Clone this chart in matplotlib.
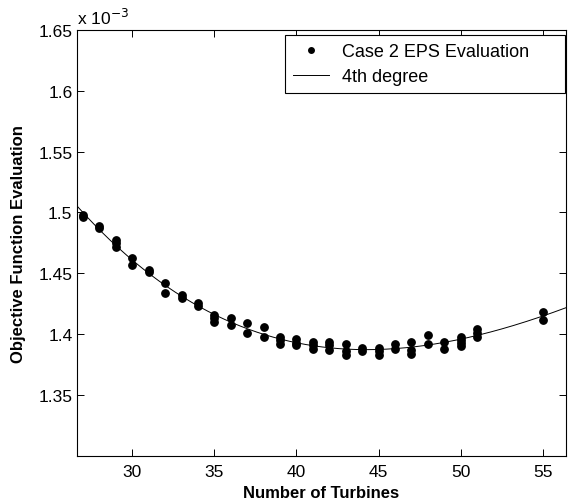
import numpy as np
import matplotlib.pyplot as plt

plt.rcParams['font.family'] = ['Liberation Sans', 'DejaVu Sans']

# objective function values, in units of 1e-3
turbines = [27, 27, 28, 28, 29, 29, 29, 30, 30, 31, 31, 32, 32, 33, 33, 34, 34,
            35, 35, 35, 36, 36, 37, 37, 38, 38, 39, 39, 39, 40, 40, 40,
            41, 41, 41, 42, 42, 42, 43, 43, 43, 44, 44, 45, 45, 45, 46, 46,
            47, 47, 47, 48, 48, 49, 49, 50, 50, 50, 50, 51, 51, 51, 55, 55]
evaluation = [1.496, 1.498, 1.487, 1.489, 1.477, 1.475, 1.472, 1.463, 1.457,
              1.453, 1.451, 1.442, 1.434, 1.432, 1.430, 1.426, 1.423,
              1.416, 1.413, 1.410, 1.413, 1.408, 1.409, 1.401, 1.406, 1.398,
              1.398, 1.395, 1.392, 1.396, 1.393, 1.391,
              1.394, 1.391, 1.388, 1.394, 1.391, 1.387, 1.392, 1.386, 1.383,
              1.389, 1.386, 1.389, 1.386, 1.383, 1.392, 1.388,
              1.394, 1.387, 1.384, 1.399, 1.392, 1.394, 1.388,
              1.398, 1.395, 1.393, 1.390, 1.404, 1.401, 1.398, 1.418, 1.412]

xlim = (26.65, 56.4)
ylim = (1.30, 1.65)

# 4th degree polynomial fit of the evaluations
coef = np.polyfit(turbines, evaluation, 4)
fit_x = np.linspace(xlim[0], xlim[1], 300)
fit_y = np.polyval(coef, fit_x)

fig = plt.figure(figsize=(5.70, 5.02), dpi=100)
ax = fig.add_axes([0.1356, 0.0896, 0.857, 0.849])

ax.plot(turbines, evaluation, 'o', color='black', ms=5.3, label='Case 2 EPS Evaluation')
ax.plot(fit_x, fit_y, '-', color='black', lw=0.7, label='4th degree')

ax.set_xlim(xlim)
ax.set_ylim(ylim)
ax.set_xticks([30, 35, 40, 45, 50, 55])
ax.set_yticks([1.35, 1.4, 1.45, 1.5, 1.55, 1.6, 1.65])
ax.set_yticklabels(['1.35', '1.4', '1.45', '1.5', '1.55', '1.6', '1.65'])
ax.tick_params(direction='in', top=True, right=True, length=5, width=0.7,
               labelsize=12.5, pad=3.5)
ax.tick_params(axis='x', pad=5.5)
for s in ax.spines.values():
    s.set_linewidth(0.8)

ax.set_xlabel('Number of Turbines', fontsize=12, fontweight='bold')
ax.set_ylabel('Objective Function Evaluation', fontsize=12, fontweight='bold')
ax.xaxis.set_label_coords(0.5, -0.068)
ax.yaxis.set_label_coords(-0.105, 0.5)

ax.text(0.0, 1.006, r'x 10$^{-3}$', transform=ax.transAxes, fontsize=12.5,
        ha='left', va='bottom')

leg = ax.legend(loc='upper left', bbox_to_anchor=(0.4256, 0.0, 0.572, 0.988),
                mode='expand', numpoints=1, fontsize=13, fancybox=False,
                edgecolor='black', framealpha=1, borderaxespad=0.0,
                handlelength=2.0, handletextpad=0.7, borderpad=0.45,
                labelspacing=0.45, markerscale=0.75)
leg.get_frame().set_linewidth(0.8)

fig.savefig('out.png', dpi=100)
